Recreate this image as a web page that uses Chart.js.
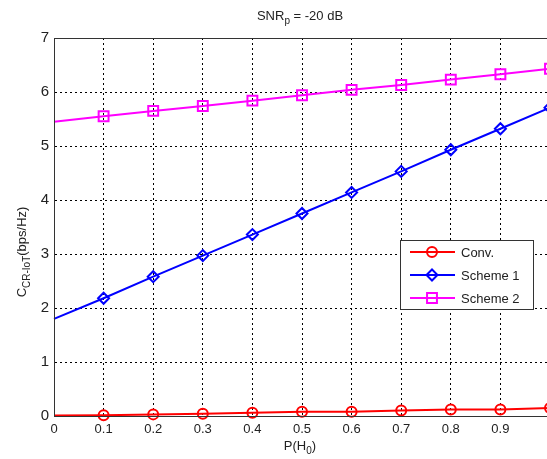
<!DOCTYPE html>
<html>
<head>
<meta charset="utf-8">
<script src="https://cdn.jsdelivr.net/npm/chart.js@4.4.0/dist/chart.umd.min.js"></script>
<style>
  html, body { margin: 0; padding: 0; background: #fff; overflow: hidden; }
  #wrap { position: absolute; left: 0; top: 0; width: 560px; height: 459px; }
</style>
</head>
<body>
<div id="wrap"><canvas id="myChart" width="560" height="459"></canvas></div>
<script>
// data
var pH0 = [0, 0.1, 0.2, 0.3, 0.4, 0.5, 0.6, 0.7, 0.8, 0.9, 1.0];
var conv = [0.01, 0.015, 0.03, 0.04, 0.06, 0.08, 0.08, 0.1, 0.12, 0.12, 0.15];
var scheme1 = [1.8, 2.18, 2.58, 2.97, 3.36, 3.75, 4.14, 4.53, 4.93, 5.32, 5.71];
var scheme2 = [5.45, 5.55, 5.65, 5.74, 5.84, 5.94, 6.04, 6.13, 6.23, 6.33, 6.43];
var xTicks = [0, 0.1, 0.2, 0.3, 0.4, 0.5, 0.6, 0.7, 0.8, 0.9];
var yTicks = [0, 1, 2, 3, 4, 5, 6, 7];
var names = ['Conv.', 'Scheme 1', 'Scheme 2'];

var FONT = '"Liberation Sans", Arial, sans-serif';

function pts(ys) {
  return ys.map(function (y, i) { return { x: pH0[i], y: y }; });
}
// no marker at x = 0
function radii(r) {
  return pH0.map(function (x) { return x === 0 ? 0 : r; });
}

function drawParts(ctx, parts, x, y, size) {
  // parts: [text, isSub]
  var w = 0;
  parts.forEach(function (p) {
    ctx.font = (p[1] ? size - 3 : size) + 'px ' + FONT;
    w += ctx.measureText(p[0]).width;
  });
  var cx = x - w / 2;
  parts.forEach(function (p) {
    ctx.font = (p[1] ? size - 3 : size) + 'px ' + FONT;
    ctx.fillText(p[0], cx, p[1] ? y + 5 : y);
    cx += ctx.measureText(p[0]).width;
  });
}

const decor = {
  id: 'decor',
  afterDraw(chart) {
    var ctx = chart.ctx;
    var a = chart.chartArea;
    ctx.save();
    // box
    ctx.strokeStyle = '#333';
    ctx.lineWidth = 1;
    ctx.strokeRect(a.left + 0.5, a.top + 0.5, a.right - a.left, a.bottom - a.top);

    ctx.fillStyle = '#222';
    ctx.textBaseline = 'middle';
    ctx.textAlign = 'left';
    // title
    drawParts(ctx, [['SNR', false], ['p', true], [' = -20 dB', false]], 300, 16, 13);
    // x title
    drawParts(ctx, [['P(H', false], ['0', true], [')', false]], 300, 446, 13);
    // y title
    ctx.translate(22, 252);
    ctx.rotate(-Math.PI / 2);
    drawParts(ctx, [['C', false], ['CR-IoT', true], ['(bps/Hz)', false]], 0, 0, 13);
    ctx.restore();

    // legend
    ctx.save();
    var lx = 400.5, ly = 240.5, lw = 133, lh = 69;
    ctx.fillStyle = '#fff';
    ctx.fillRect(lx, ly, lw, lh);
    ctx.strokeStyle = '#333';
    ctx.lineWidth = 1;
    ctx.strokeRect(lx, ly, lw, lh);
    chart.data.datasets.forEach(function (ds, i) {
      var yy = 252 + i * 23;
      ctx.strokeStyle = ds.borderColor;
      ctx.lineWidth = 2;
      ctx.beginPath();
      ctx.moveTo(410, yy);
      ctx.lineTo(455, yy);
      ctx.stroke();
      ctx.fillStyle = 'rgba(0,0,0,0)';
      Chart.helpers.drawPoint(ctx, {
        pointStyle: ds.pointStyle, radius: ds.legendRadius, borderWidth: 2
      }, 432, yy);
      ctx.fillStyle = '#222';
      ctx.font = '13px ' + FONT;
      ctx.textAlign = 'left';
      ctx.textBaseline = 'middle';
      ctx.fillText(ds.label, 461, yy + 1);
    });
    ctx.restore();
  }
};

function series(label, ys, color, style, r) {
  return {
    label: label,
    data: pts(ys),
    borderColor: color,
    backgroundColor: 'transparent',
    borderWidth: 2,
    pointStyle: style,
    pointRadius: radii(r),
    pointBorderWidth: 2,
    pointBorderColor: color,
    pointBackgroundColor: 'transparent',
    legendRadius: r,
    tension: 0
  };
}

const data = {
  datasets: [
    series(names[0], conv, '#ff0000', 'circle', 5),
    series(names[1], scheme1, '#0000ff', 'rectRot', 5.5),
    series(names[2], scheme2, '#ff00ff', 'rect', 7)
  ]
};

const config = {
  type: 'line',
  data,
  options: {
    responsive: false,
    animation: false,
    clip: false,
    layout: { padding: { top: 38, right: 10, left: 0, bottom: 0 } },
    plugins: {
      legend: { display: false },
      title: { display: false },
      tooltip: { enabled: false }
    },
    scales: {
      x: {
        type: 'linear',
        min: 0,
        max: 1,
        afterBuildTicks: function (s) { s.ticks = xTicks.map(function (v) { return { value: v }; }); },
        afterFit: function (s) { s.height = 43; },
        grid: { color: '#000', lineWidth: 1, drawTicks: false },
        border: { color: '#333', dash: [2, 3] },
        ticks: {
          color: '#222',
          padding: 6,
          maxRotation: 0,
          autoSkip: false,
          font: { family: FONT, size: 13 },
          callback: function (v) { return v; }
        }
      },
      y: {
        min: 0,
        max: 7,
        afterBuildTicks: function (s) { s.ticks = yTicks.map(function (v) { return { value: v }; }); },
        afterFit: function (s) { s.width = 54; },
        grid: { color: '#000', lineWidth: 1, drawTicks: false },
        border: { color: '#333', dash: [2, 3] },
        ticks: {
          color: '#222',
          padding: 5,
          font: { family: FONT, size: 15 }
        }
      }
    }
  },
  plugins: [decor]
};

const myChart = new Chart(document.getElementById('myChart'), config);
</script>
</body>
</html>
